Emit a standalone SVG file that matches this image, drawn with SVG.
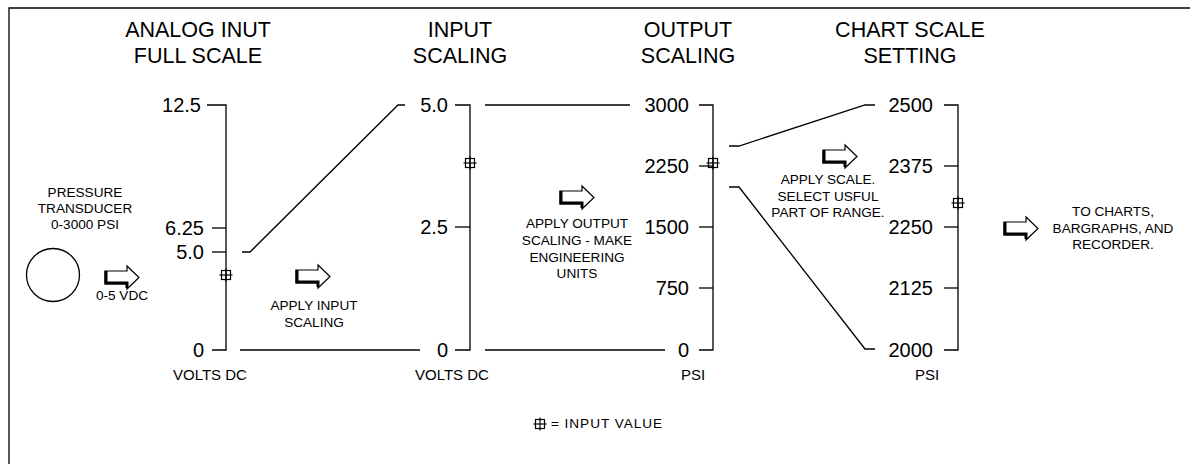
<svg xmlns="http://www.w3.org/2000/svg" width="1190" height="464" viewBox="0 0 1190 464">
<style>
.ln{stroke:#000;stroke-width:1.3;fill:none}
.title{font-family:"Liberation Sans",Arial,sans-serif;font-size:21.5px;text-anchor:middle;fill:#000}
.num{font-family:"Liberation Sans",Arial,sans-serif;font-size:20px;text-anchor:end;fill:#000}
.unit{font-family:"Liberation Sans",Arial,sans-serif;font-size:15px;text-anchor:middle;fill:#000}
.sm{font-family:"Liberation Sans",Arial,sans-serif;font-size:13.6px;text-anchor:middle;fill:#000}
.lg{font-family:"Liberation Sans",Arial,sans-serif;font-size:13.6px;text-anchor:start;fill:#000}
</style>
<defs>
<g id="arrow">
<polygon points="1,5 23,5 23,0 35,11.5 23,23 23,18 1,18" fill="#fff" stroke="#000" stroke-width="1.2" stroke-linejoin="miter"/>
<polyline points="2,5 2,17 23,17 23,22" fill="none" stroke="#000" stroke-width="3"/>
</g>
<g id="mark">
<rect x="-4.5" y="-4.5" width="9" height="9" fill="none" stroke="#000" stroke-width="1.2"/>
<line x1="-6.5" y1="0" x2="6.5" y2="0" stroke="#000" stroke-width="1.2"/>
<line x1="0" y1="-6.5" x2="0" y2="6.5" stroke="#000" stroke-width="1.2"/>
</g>
</defs>
<rect width="1190" height="464" fill="#fff"/>
<g id="frame"><polyline class="ln" points="9,464 9,8 1190,8" stroke-width="1.6"/></g>

<g id="titles">
<text class="title" x="198" y="37">ANALOG INUT</text>
<text class="title" x="198" y="63">FULL SCALE</text>
<text class="title" x="460" y="37">INPUT</text>
<text class="title" x="460" y="63">SCALING</text>
<text class="title" x="688" y="37">OUTPUT</text>
<text class="title" x="688" y="63">SCALING</text>
<text class="title" x="910" y="37">CHART SCALE</text>
<text class="title" x="910" y="63">SETTING</text>
</g>

<g id="transducer">
<circle cx="53" cy="275" r="26.5" class="ln"/>
<text class="sm" x="85" y="197">PRESSURE</text>
<text class="sm" x="85" y="213">TRANSDUCER</text>
<text class="sm" x="85" y="229">0-3000 PSI</text>
</g>

<g id="axis1">
<polyline class="ln" points="207,105 226,105 226,350 212,350"/>
<line class="ln" x1="212" y1="228" x2="226" y2="228"/>
<line class="ln" x1="212" y1="252" x2="226" y2="252"/>
<text class="num" x="201" y="112">12.5</text>
<text class="num" x="204" y="235">6.25</text>
<text class="num" x="204" y="259">5.0</text>
<text class="num" x="204" y="357">0</text>
<text class="unit" x="210" y="380">VOLTS DC</text>
<use href="#mark" x="226" y="275"/>
</g>

<g id="axis2">
<polyline class="ln" points="455,105 470,105 470,350 455,350"/>
<line class="ln" x1="455" y1="227" x2="470" y2="227"/>
<text class="num" x="448" y="112">5.0</text>
<text class="num" x="448" y="234">2.5</text>
<text class="num" x="448" y="357">0</text>
<text class="unit" x="452" y="380">VOLTS DC</text>
<use href="#mark" x="470" y="163"/>
</g>

<g id="axis3">
<polyline class="ln" points="699,105 713,105 713,350 699,350"/>
<line class="ln" x1="699" y1="166" x2="713" y2="166"/>
<line class="ln" x1="699" y1="227" x2="713" y2="227"/>
<line class="ln" x1="699" y1="288" x2="713" y2="288"/>
<text class="num" x="689" y="112">3000</text>
<text class="num" x="689" y="173">2250</text>
<text class="num" x="689" y="234">1500</text>
<text class="num" x="689" y="295">750</text>
<text class="num" x="689" y="357">0</text>
<text class="unit" x="693" y="380">PSI</text>
<use href="#mark" x="713" y="163"/>
</g>

<g id="axis4">
<polyline class="ln" points="944,105 958,105 958,350 944,350"/>
<line class="ln" x1="944" y1="166" x2="958" y2="166"/>
<line class="ln" x1="944" y1="227" x2="958" y2="227"/>
<line class="ln" x1="944" y1="288" x2="958" y2="288"/>
<text class="num" x="933" y="112">2500</text>
<text class="num" x="933" y="173">2375</text>
<text class="num" x="933" y="234">2250</text>
<text class="num" x="933" y="295">2125</text>
<text class="num" x="933" y="357">2000</text>
<text class="unit" x="927" y="380">PSI</text>
<use href="#mark" x="958" y="203"/>
</g>

<g id="connectors">
<polyline class="ln" points="242,252 250,252 398,105 405,105"/>
<line class="ln" x1="240" y1="350" x2="420" y2="350"/>
<line class="ln" x1="485" y1="105" x2="630" y2="105"/>
<line class="ln" x1="485" y1="350" x2="665" y2="350"/>
<polyline class="ln" points="729,146 739,146 865,105 875,105"/>
<polyline class="ln" points="729,187 739,187 865,349 875,349"/>
</g>

<g id="step1">
<use href="#arrow" x="104" y="266"/>
<text class="sm" x="122" y="300">0-5 VDC</text>
</g>
<g id="step2">
<use href="#arrow" x="295" y="265"/>
<text class="sm" x="314" y="310">APPLY INPUT</text>
<text class="sm" x="314" y="327">SCALING</text>
</g>
<g id="step3">
<use href="#arrow" x="559" y="186"/>
<text class="sm" x="577" y="228">APPLY OUTPUT</text>
<text class="sm" x="577" y="245">SCALING - MAKE</text>
<text class="sm" x="577" y="262">ENGINEERING</text>
<text class="sm" x="577" y="278">UNITS</text>
</g>
<g id="step4">
<use href="#arrow" x="822" y="145"/>
<text class="sm" x="828" y="184">APPLY SCALE.</text>
<text class="sm" x="828" y="201">SELECT USFUL</text>
<text class="sm" x="828" y="217">PART OF RANGE.</text>
</g>
<g id="step5">
<use href="#arrow" x="1003" y="217"/>
<text class="sm" x="1113" y="216">TO CHARTS,</text>
<text class="sm" x="1113" y="233">BARGRAPHS, AND</text>
<text class="sm" x="1113" y="249">RECORDER.</text>
</g>

<g id="legend">
<use href="#mark" x="540" y="424"/>
<text class="lg" x="551" y="428" textLength="111" lengthAdjust="spacing">= INPUT VALUE</text>
</g>
</svg>
